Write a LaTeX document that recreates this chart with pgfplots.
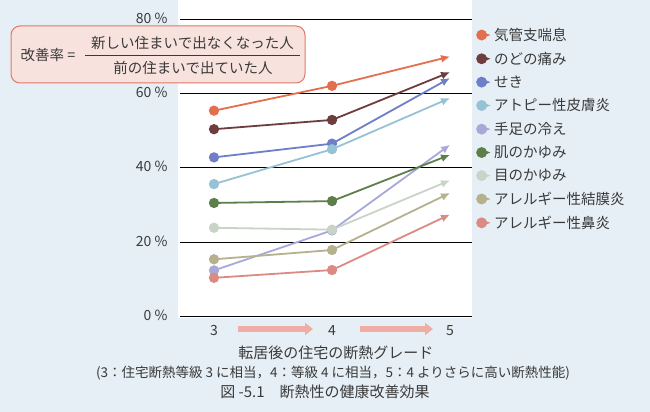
\documentclass[border=0pt]{standalone}
\usepackage{fontspec}
\setmainfont{Noto Sans CJK JP}
\usepackage{pgfplots}
\pgfplotsset{compat=1.18}
\usetikzlibrary{arrows.meta}

\definecolor{pagebg}{HTML}{E6EFF5}
\definecolor{txt}{HTML}{3A3A3A}
\definecolor{boxpink}{HTML}{F8E2DD}
\definecolor{boxred}{HTML}{E0786A}
\definecolor{arrowpink}{HTML}{EFADA3}
\definecolor{cA}{HTML}{E36F4F}
\definecolor{cB}{HTML}{6E3D3D}
\definecolor{cC}{HTML}{6E7EC8}
\definecolor{cD}{HTML}{96C2D6}
\definecolor{cE}{HTML}{A9A8DA}
\definecolor{cF}{HTML}{5E7F4A}
\definecolor{cG}{HTML}{C9D3C7}
\definecolor{cH}{HTML}{B5B18D}
\definecolor{cI}{HTML}{DC8A84}

\pgfplotsset{
  ser/.style={color=#1, line width=1.8bp, mark=*, mark size=4.2bp,
    mark indices={1,2}, mark options={solid, fill=#1, draw=#1},
    -{Latex[length=9bp,width=8bp]}},
}

\begin{document}
\begin{tikzpicture}
\fill[pagebg] (0bp,0bp) rectangle (650bp,412bp);
\useasboundingbox (0bp,0bp) rectangle (650bp,412bp);
\fill[white] (178bp,94bp) rectangle (472bp,412bp);

\begin{axis}[
  at={(180bp,96bp)}, anchor=south west,
  scale only axis, width=292bp, height=296.5bp,
  xmin=2.712, xmax=5.186, ymin=0, ymax=80,
  clip=false,
  axis line style={draw=none},
  major tick length=0pt,
  xtick={3,4,5}, ytick={0,20,40,60,80},
  yticklabel={\pgfmathprintnumber{\tick}\ \%},
  ymajorgrids, grid style={black, line width=0.7bp},
  /pgf/number format/assume math mode=true,
  tick label style={font=\fontsize{14bp}{16bp}\selectfont, text=txt},
  yticklabel style={xshift=-9bp, yshift=1bp},
  xticklabel style={yshift=-6bp},
  legend style={at={(1.007,0.985)}, anchor=north west, draw=none, fill=none,
    font=\fontsize{14.5bp}{17bp}\selectfont, text=txt, row sep=6bp,
    inner xsep=2bp},
  legend cell align=left,
  legend image code/.code={\fill[#1, arrows=-] (0bp,0) circle (4.5bp);
    \path (0bp,0) -- (9.5bp,0);},
]
\addplot[ser=cA] coordinates {(3,55.4) (4,62.1) (5,70.0)};
\addlegendentry{気管支喘息}
\addplot[ser=cB] coordinates {(3,50.4) (4,52.9) (5,65.8)};
\addlegendentry{のどの痛み}
\addplot[ser=cC] coordinates {(3,42.8) (4,46.5) (5,64.2)};
\addlegendentry{せき}
\addplot[ser=cD] coordinates {(3,35.6) (4,45.0) (5,58.8)};
\addlegendentry{アトピー性皮膚炎}
\addplot[ser=cE] coordinates {(3,12.3) (4,23.1) (5,46.2)};
\addlegendentry{手足の冷え}
\addplot[ser=cF] coordinates {(3,30.5) (4,31.0) (5,43.5)};
\addlegendentry{肌のかゆみ}
\addplot[ser=cG] coordinates {(3,23.8) (4,23.3) (5,36.6)};
\addlegendentry{目のかゆみ}
\addplot[ser=cH] coordinates {(3,15.3) (4,17.8) (5,33.2)};
\addlegendentry{アレルギー性結膜炎}
\addplot[ser=cI] coordinates {(3,10.3) (4,12.4) (5,27.4)};
\addlegendentry{アレルギー性鼻炎}
\end{axis}

\begin{scope}[x=1bp,y=1bp]
% grade arrows along the x axis
\draw[arrowpink, line width=6.5bp, -{Triangle[length=8bp,width=12bp]}] (238,83) -- (313,83);
\draw[arrowpink, line width=6.5bp, -{Triangle[length=8bp,width=12bp]}] (360,83) -- (433,83);

% formula box
\draw[boxred, fill=boxpink, line width=1bp, rounded corners=9bp] (11,329) rectangle (305,386);
\node[text=txt, font=\fontsize{14.5bp}{16bp}\selectfont] at (48,357) {改善率 =};
\node[text=txt, font=\fontsize{14.5bp}{16bp}\selectfont] at (192.5,369) {新しい住まいで出なくなった人};
\draw[txt, line width=0.6bp] (85,357) -- (300,357);
\node[text=txt, font=\fontsize{14.5bp}{16bp}\selectfont] at (193,344) {前の住まいで出ていた人};

% axis title and caption
\node[text=txt, font=\fontsize{15bp}{17bp}\selectfont] at (336,59) {転居後の住宅の断熱グレード};
\node[text=txt, font=\fontsize{13.5bp}{16bp}\selectfont] at (333,39) {(3：住宅断熱等級 3 に相当，4：等級 4 に相当，5：4 よりさらに高い断熱性能)};
\node[text=txt, font=\fontsize{15bp}{17bp}\selectfont] at (325,20) {図 -5.1\quad 断熱性の健康改善効果};
\end{scope}
\end{tikzpicture}
\end{document}
